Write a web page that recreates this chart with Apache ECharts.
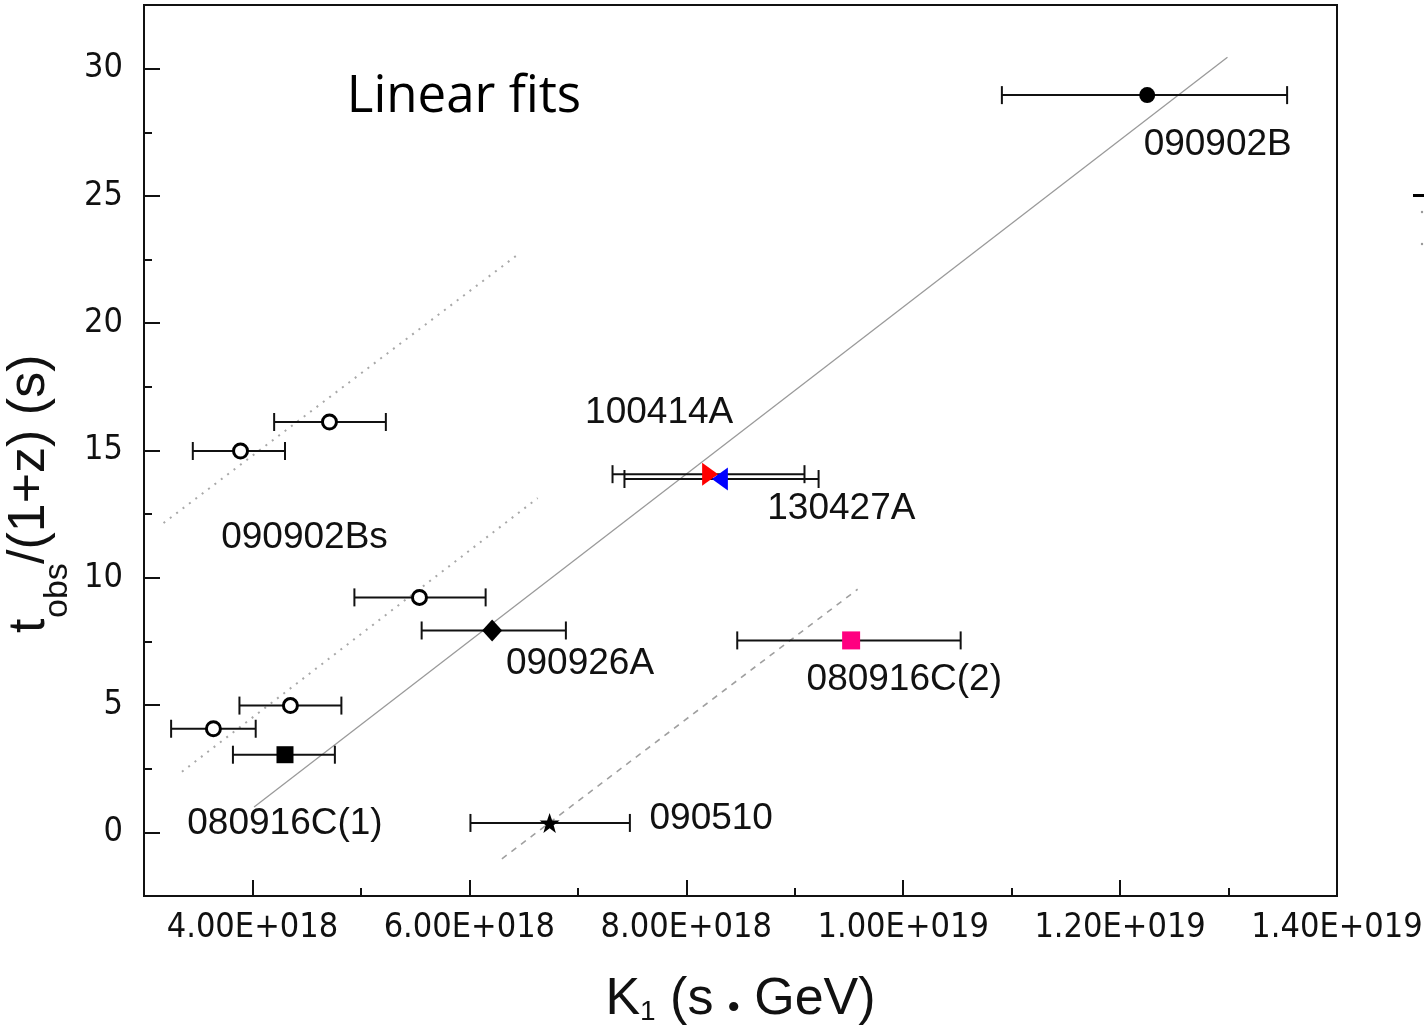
<!DOCTYPE html>
<html><head><meta charset="utf-8">
<script src="https://cdn.jsdelivr.net/npm/echarts@6/dist/echarts.min.js"></script>
<style>html,body{margin:0;padding:0;background:#fff}#c{width:1424px;height:1030px}</style>
</head><body><div id="c"></div>
<script>
// ---------------- data ----------------
const pointNames = ['090902B','090902Bs','090902Bs','090902Bs','090902Bs','090902Bs','080916C(1)','090926A','100414A','130427A','080916C(2)','090510'];
const pointK     = [12.25e18, 4.71e18, 3.89e18, 5.54e18, 4.35e18, 3.64e18, 4.30e18, 6.21e18, 8.22e18, 8.31e18, 9.52e18, 6.74e18];
const pointT     = [28.96, 16.12, 14.98, 9.23, 4.98, 4.07, 3.05, 7.93, 14.07, 13.88, 7.54, 0.37];
const kLow       = [10.91e18, 4.20e18, 3.45e18, 4.94e18, 3.88e18, 3.25e18, 3.82e18, 5.56e18, 7.32e18, 7.43e18, 8.47e18, 6.01e18];
const kHigh      = [13.54e18, 5.23e18, 4.30e18, 6.15e18, 4.82e18, 4.03e18, 4.76e18, 6.89e18, 9.09e18, 9.22e18, 10.53e18, 7.48e18];

// fit line end points [K, t]
const fitAll       = [[4.015e18, 1.00], [12.99e18, 30.45]];
const fitUpperDots = [[3.18e18, 12.15], [6.46e18, 22.74]];
const fitLowerDots = [[3.35e18, 2.38], [6.63e18, 13.13]];
const fitDashed    = [[6.30e18, -1.04], [9.58e18, 9.55]];

const xTickValues = [4e18, 6e18, 8e18, 10e18, 12e18, 14e18];
const xTickLabels = ['4.00E+018', '6.00E+018', '8.00E+018', '1.00E+019', '1.20E+019', '1.40E+019'];
const xMinorTicks = [5e18, 7e18, 9e18, 11e18, 13e18];
const yTickValues = [0, 5, 10, 15, 20, 25, 30];
const yMinorTicks = [2.5, 7.5, 12.5, 17.5, 22.5, 27.5];

const annotationTexts = ['090902B','100414A','130427A','090902Bs','090926A','080916C(2)','080916C(1)','090510'];
const titleText = 'Linear fits';

// ---------------- layout / style ----------------
const labelPlaces = [[12.90e18, 26.99],[7.75e18, 16.48],[9.43e18, 12.70],[4.48e18, 11.59],[7.02e18, 6.63],[10.01e18, 6.00],[4.30e18, 0.33],[8.23e18, 0.53]];
const titlePlace = [4.87e18, 28.88];

const markerStyle = {
  '090902B':    {symbol:'circle', size:16, color:'#000', border:'#000', bw:0},
  '090902Bs':   {symbol:'circle', size:14, color:'#fff', border:'#000', bw:3},
  '080916C(1)': {symbol:'rect', size:17, color:'#000', border:'#000', bw:0},
  '090926A':    {symbol:'diamond', size:[20,22], color:'#000', border:'#000', bw:0},
  '100414A':    {symbol:'triangle', size:[23,16], color:'#ff0000', border:'#ff0000', bw:0, rotate:-90},
  '130427A':    {symbol:'triangle', size:[23,16], color:'#0000ff', border:'#0000ff', bw:0, rotate:90},
  '080916C(2)': {symbol:'rect', size:18, color:'#ff0080', border:'#ff0080', bw:0},
  '090510':     {symbol:'path://M12,0 L14.9,8.3 L23.4,8.3 L16.6,13.5 L19.1,22 L12,16.8 L4.9,22 L7.4,13.5 L0.6,8.3 L9.1,8.3 Z', size:20, color:'#000', border:'#000', bw:0}
};

const tickFont = "'Liberation Sans Narrow','Arial Narrow','DejaVu Sans Condensed','Liberation Sans',sans-serif";
const textFont = "'Liberation Sans',Arial,Helvetica,sans-serif";
const X_MIN = 3e18, X_MAX = 14e18, Y_MIN = -2.5, Y_MAX = 32.5;

const errData = pointK.map((k, i) => [kLow[i], kHigh[i], pointT[i]]);

const pointsData = pointK.map((k, i) => {
  const s = markerStyle[pointNames[i]];
  return {
    value: [k, pointT[i]],
    symbol: s.symbol,
    symbolSize: s.size,
    symbolRotate: s.rotate || 0,
    itemStyle: {color: s.color, borderColor: s.border, borderWidth: s.bw, opacity: 1}
  };
});

const annData = annotationTexts.map((t, i) => ({value: labelPlaces[i], name: t}));

function fitSeries(data, type, color, width) {
  return {
    type: 'line', data: data, showSymbol: false, symbol: 'none', silent: true, z: 1,
    lineStyle: {color: color, width: width, type: type, opacity: 1}, animation: false
  };
}

const chart = echarts.init(document.getElementById('c'), null, {renderer: 'canvas'});

const option = {
  animation: false,
  backgroundColor: '#fff',
  grid: [{left: 144, right: 87, top: 5, bottom: 134, show: true, borderColor: '#111', borderWidth: 2,
    backgroundColor: 'transparent', containLabel: false, outerBoundsMode: 'none'}],
  xAxis: [{
    type: 'value', min: X_MIN, max: X_MAX, gridIndex: 0,
    axisLine: {show: true, onZero: false, lineStyle: {color: '#111', width: 2}},
    axisTick: {show: true, inside: true, length: 16, customValues: xTickValues, lineStyle: {color: '#111', width: 2}},
    axisLabel: {show: true, customValues: xTickValues, margin: 15, fontSize: 34, fontFamily: tickFont, color: '#111',
      formatter: v => { const i = xTickValues.findIndex(t => Math.abs(t - v) < 1e15); return i >= 0 ? xTickLabels[i] : ''; }},
    splitLine: {show: false},
    name: 'K{s|1} (s {d|\u2022} GeV)', nameLocation: 'middle', nameGap: 78, nameMoveOverlap: false,
    nameTextStyle: {fontSize: 52, lineHeight: 52, fontFamily: textFont, color: '#111',
      rich: {
        s: {fontSize: 28, lineHeight: 34, verticalAlign: 'bottom', fontFamily: textFont, color: '#111'},
        d: {fontSize: 34, lineHeight: 36, verticalAlign: 'bottom', fontFamily: textFont, color: '#111'}
      }}
  }, {
    type: 'value', min: X_MIN, max: X_MAX, gridIndex: 0, position: 'bottom',
    axisLine: {show: false, onZero: false},
    axisTick: {show: true, inside: true, length: 8, customValues: xMinorTicks, lineStyle: {color: '#111', width: 2}},
    axisLabel: {show: false}, splitLine: {show: false}
  }],
  yAxis: [{
    type: 'value', min: Y_MIN, max: Y_MAX, gridIndex: 0,
    axisLine: {show: true, onZero: false, lineStyle: {color: '#111', width: 2}},
    axisTick: {show: true, inside: true, length: 16, customValues: yTickValues, lineStyle: {color: '#111', width: 2}},
    axisLabel: {show: true, customValues: yTickValues, margin: 21, fontSize: 34, fontFamily: tickFont, color: '#111'},
    splitLine: {show: false}
  }, {
    type: 'value', min: Y_MIN, max: Y_MAX, gridIndex: 0, position: 'left',
    axisLine: {show: false, onZero: false},
    axisTick: {show: true, inside: true, length: 8, customValues: yMinorTicks, lineStyle: {color: '#111', width: 2}},
    axisLabel: {show: false}, splitLine: {show: false}
  }],
  series: [
    fitSeries(fitAll, 'solid', '#9a9a9a', 1.3),
    fitSeries(fitUpperDots, [2, 6], '#a8a8a8', 2),
    fitSeries(fitLowerDots, [2, 6], '#a8a8a8', 2),
    fitSeries(fitDashed, [6, 6], '#a0a0a0', 1.6),
    {
      type: 'custom', data: errData, encode: {x: [0, 1], y: 2}, z: 2, silent: true, clip: false,
      renderItem: function (params, api) {
        const lo = api.coord([api.value(0), api.value(2)]);
        const hi = api.coord([api.value(1), api.value(2)]);
        const h = 9;
        const st = {stroke: '#111', lineWidth: 2};
        return {type: 'group', children: [
          {type: 'line', shape: {x1: lo[0], y1: lo[1], x2: hi[0], y2: hi[1]}, style: st},
          {type: 'line', shape: {x1: lo[0], y1: lo[1] - h, x2: lo[0], y2: lo[1] + h}, style: st},
          {type: 'line', shape: {x1: hi[0], y1: hi[1] - h, x2: hi[0], y2: hi[1] + h}, style: st}
        ]};
      }
    },
    {type: 'scatter', data: pointsData, z: 3, silent: true, itemStyle: {opacity: 1}},
    {
      type: 'scatter', data: annData, symbolSize: 0, z: 4, silent: true, itemStyle: {opacity: 1},
      label: {show: true, position: 'inside', formatter: p => p.name, fontSize: 37, fontFamily: textFont, color: '#111', opacity: 1}
    },
    {
      type: 'scatter', data: [{value: titlePlace, name: titleText}], symbolSize: 0, z: 4, silent: true, itemStyle: {opacity: 1},
      label: {show: true, position: 'right', distance: 0, formatter: p => p.name, fontSize: 51,
        fontFamily: "'Open Sans','Noto Sans',sans-serif", color: '#000', opacity: 1}
    }
  ],
  graphic: [
    {type: 'group', x: 0, y: 633, rotation: Math.PI / 2, children: [
      {type: 'text', x: 0, y: 30, style: {text: 't', fontSize: 52, fontFamily: textFont, fill: '#111', align: 'left', verticalAlign: 'middle'}},
      {type: 'text', x: 15, y: 58, style: {text: 'obs', fontSize: 34, fontFamily: textFont, fill: '#111', align: 'left', verticalAlign: 'middle'}},
      {type: 'text', x: 69, y: 30, style: {text: '/(1+z) (s)', fontSize: 52, fontFamily: textFont, fill: '#111', align: 'left', verticalAlign: 'middle'}}
    ]},
    {type: 'rect', shape: {x: 1413, y: 194, width: 11, height: 3}, style: {fill: '#000'}},
    {type: 'circle', shape: {cx: 1422, cy: 212, r: 1.2}, style: {fill: '#999'}},
    {type: 'circle', shape: {cx: 1422, cy: 244, r: 1.2}, style: {fill: '#999'}}
  ]
};
chart.setOption(option);
</script>
</body></html>
